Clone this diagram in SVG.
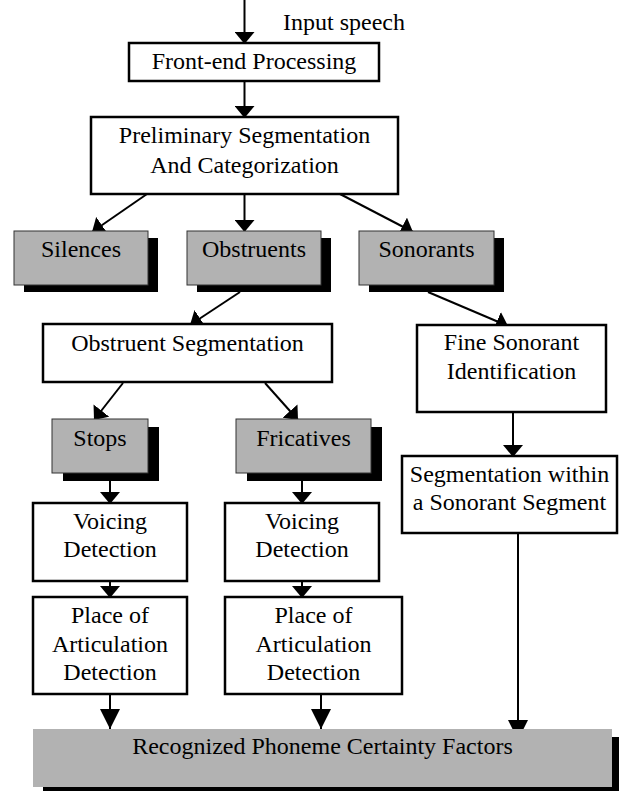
<svg xmlns="http://www.w3.org/2000/svg" width="619" height="791" viewBox="0 0 619 791">
<style>
text{font-family:"Liberation Serif","Times New Roman",serif;font-size:24px;fill:#000;text-anchor:middle}
.box{fill:#fff;stroke:#000;stroke-width:2.5}
.gray{fill:#b2b2b2;stroke:#333;stroke-width:1}
.shadow{fill:#000}
.c{stroke:#000;stroke-width:2;fill:none;marker-end:url(#ah)}
.cb{stroke:#000;stroke-width:2;fill:none;marker-end:url(#ahb)}
</style>
<defs>
<marker id="ah" markerUnits="userSpaceOnUse" markerWidth="12" markerHeight="20" refX="12" refY="10" orient="auto" viewBox="0 0 12 20"><path d="M0,0 L12,10 L0,20 z" fill="#000"/></marker>
<marker id="ahb" markerUnits="userSpaceOnUse" markerWidth="20" markerHeight="20" refX="20" refY="10" orient="auto" viewBox="0 0 20 20"><path d="M0,0 L20,10 L0,20 z" fill="#000"/></marker>
</defs>
<g id="connectors">
<line class="c" x1="244.5" y1="0" x2="244.5" y2="44"/>
<line class="c" x1="244.5" y1="81" x2="244.5" y2="118"/>
<line class="c" x1="147" y1="194" x2="92" y2="232"/>
<line class="c" x1="244.5" y1="194" x2="244.5" y2="232"/>
<line class="c" x1="340" y1="194" x2="413" y2="232"/>
<line class="c" x1="240" y1="292" x2="190" y2="325"/>
<line class="c" x1="428" y1="292" x2="508" y2="326"/>
<line class="c" x1="513" y1="412" x2="513" y2="457"/>
<line class="c" x1="123" y1="383" x2="94" y2="420"/>
<line class="c" x1="265" y1="383" x2="298" y2="420"/>
<line class="c" x1="110" y1="473" x2="110" y2="504"/>
<line class="c" x1="302" y1="473" x2="302" y2="504"/>
<line class="c" x1="110" y1="581" x2="110" y2="598"/>
<line class="c" x1="302" y1="581" x2="302" y2="598"/>
<line class="cb" x1="110" y1="694" x2="110" y2="729"/>
<line class="cb" x1="321" y1="694" x2="321" y2="729"/>
<line class="cb" x1="518" y1="533" x2="518" y2="740"/>
</g>
<g id="input-label"><text x="283" y="30" style="text-anchor:start">Input speech</text></g>
<g id="front-end"><rect class="box" x="129" y="43" width="250" height="38"/><text x="254" y="69">Front-end Processing</text></g>
<g id="preliminary"><rect class="box" x="91" y="117" width="307" height="77"/><text x="244.5" y="143">Preliminary Segmentation</text><text x="244.5" y="173">And Categorization</text></g>
<g id="silences"><rect class="shadow" x="24" y="238" width="134" height="54"/><rect class="gray" x="14" y="231" width="134" height="54"/><text x="81" y="257">Silences</text></g>
<g id="obstruents"><rect class="shadow" x="197" y="238" width="134" height="54"/><rect class="gray" x="187" y="231" width="134" height="54"/><text x="254" y="257">Obstruents</text></g>
<g id="sonorants"><rect class="shadow" x="369" y="238" width="135" height="54"/><rect class="gray" x="359" y="231" width="135" height="54"/><text x="426.5" y="257">Sonorants</text></g>
<g id="obstruent-segmentation"><rect class="box" x="43" y="324" width="289" height="58"/><text x="187.5" y="351">Obstruent Segmentation</text></g>
<g id="fine-sonorant"><rect class="box" x="417" y="325" width="189" height="87"/><text x="511.5" y="350">Fine Sonorant</text><text x="511.5" y="379">Identification</text></g>
<g id="segmentation-within"><rect class="box" x="402" y="456" width="215" height="77"/><text x="509.5" y="482">Segmentation within</text><text x="509.5" y="510">a Sonorant Segment</text></g>
<g id="stops"><rect class="shadow" x="63" y="427" width="96" height="54"/><rect class="gray" x="52" y="419" width="96" height="54"/><text x="100" y="446">Stops</text></g>
<g id="fricatives"><rect class="shadow" x="247" y="427" width="135" height="54"/><rect class="gray" x="236" y="419" width="135" height="54"/><text x="303.5" y="446">Fricatives</text></g>
<g id="voicing-stops"><rect class="box" x="33" y="503" width="154" height="78"/><text x="110" y="529">Voicing</text><text x="110" y="557">Detection</text></g>
<g id="voicing-fricatives"><rect class="box" x="225" y="503" width="154" height="78"/><text x="302" y="529">Voicing</text><text x="302" y="557">Detection</text></g>
<g id="place-stops"><rect class="box" x="33" y="597" width="154" height="97"/><text x="110" y="623">Place of</text><text x="110" y="652">Articulation</text><text x="110" y="680">Detection</text></g>
<g id="place-fricatives"><rect class="box" x="225" y="597" width="177" height="97"/><text x="313.5" y="623">Place of</text><text x="313.5" y="652">Articulation</text><text x="313.5" y="680">Detection</text></g>
<g id="recognized"><rect class="shadow" x="43" y="737" width="579" height="58"/><rect x="33" y="729" width="579" height="58" fill="#b2b2b2"/><text x="322.5" y="754">Recognized Phoneme Certainty Factors</text></g>
</svg>
